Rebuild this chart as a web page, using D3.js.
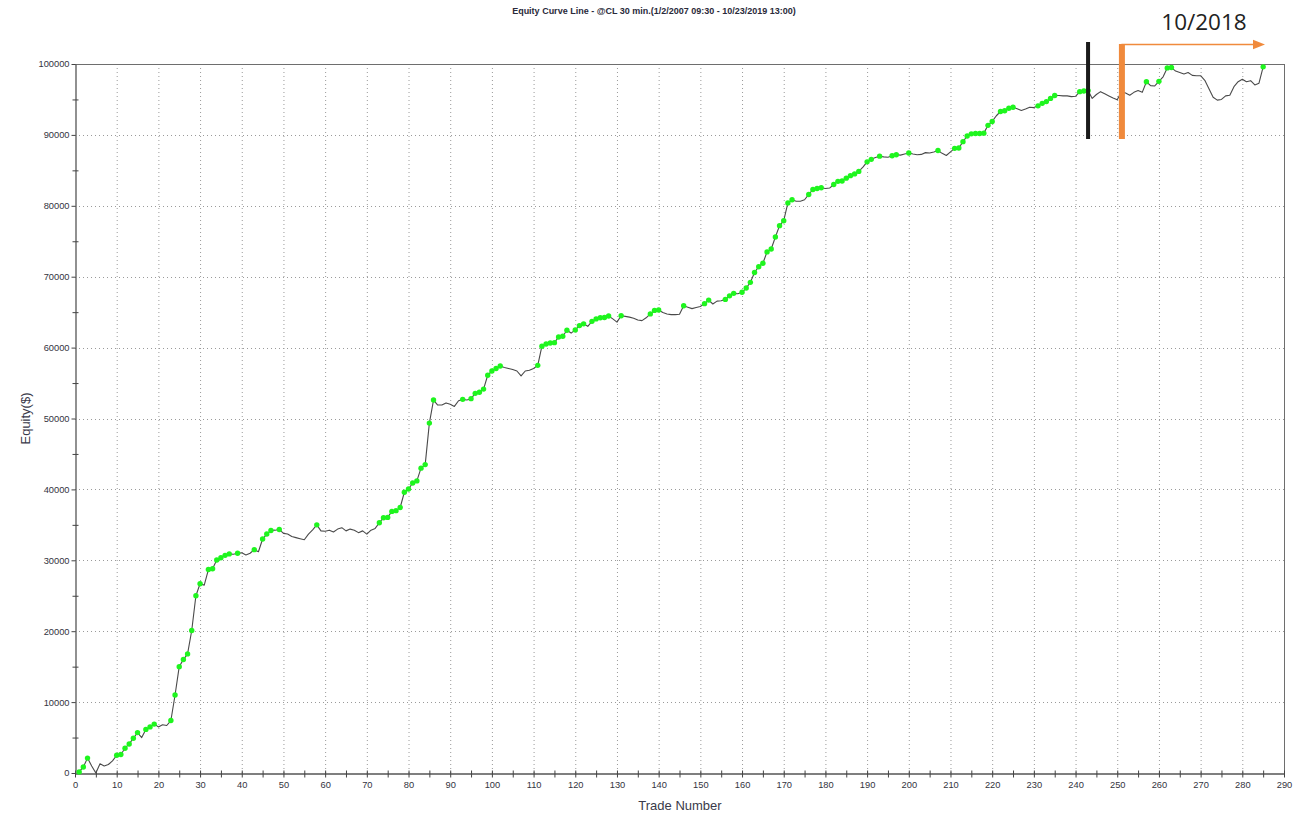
<!DOCTYPE html>
<html>
<head>
<meta charset="utf-8">
<script src="https://cdn.jsdelivr.net/npm/d3@7"></script>
<style>
  html, body { margin: 0; padding: 0; background: #fff; }
  svg { display: block; }
</style>
</head>
<body>
<svg id="chart" width="1308" height="820"></svg>
<script>
// ---------- DATA ----------
const chartTitle = "Equity Curve Line - @CL 30 min.(1/2/2007 09:30 - 10/23/2019 13:00)";
const xAxisLabel = "Trade Number";
const yAxisLabel = "Equity($)";
const xTickValues = d3.range(0, 291, 10);
const yTickValues = d3.range(0, 100001, 10000);

// Equity after each trade, trades 1..285
const equity = [
  150, 850, 2100, 1000, 0, 1300, 1000, 1200, 1700, 2500,
  2600, 3500, 4100, 4900, 5700, 5000, 6150, 6500, 6900, 6500,
  6800, 6700, 7400, 11000, 15000, 16000, 16800, 20100, 25000, 26700,
  26500, 28700, 28800, 30050, 30350, 30700, 30900, 30850, 31000, 31050,
  30750, 31000, 31500, 31200, 33000, 33700, 34200, 34250, 34350, 33800,
  33700, 33350, 33200, 33050, 32900, 33700, 34300, 35000, 34150, 34100,
  34250, 34000, 34400, 34600, 34150, 34400, 34250, 33900, 34150, 33700,
  34250, 34500, 35300, 36000, 36050, 36900, 37000, 37450, 39600, 40050,
  40900, 41200, 43000, 43500, 49350, 52600, 51900, 51900, 52200, 52000,
  51700, 52500, 52700, 52600, 52800, 53550, 53700, 54150, 56100, 56700,
  57050, 57400, 57200, 57050, 56900, 56700, 56000, 56700, 56800, 57050,
  57500, 60200, 60500, 60650, 60700, 61500, 61600, 62450, 62050, 62500,
  63100, 63350, 63000, 63700, 64050, 64200, 64250, 64450, 64050, 63600,
  64500, 64400, 64300, 64150, 63900, 63800, 64200, 64750, 65250, 65300,
  64950, 64750, 64650, 64650, 64700, 65900, 65700, 65500, 65650, 65800,
  66200, 66700, 66150, 66550, 66600, 66800, 67300, 67650, 67600, 67800,
  68400, 69200, 70600, 71400, 71900, 73500, 73900, 75600, 77200, 77900,
  80400, 80850, 80650, 80650, 80850, 81600, 82300, 82450, 82550, 82450,
  82500, 83000, 83450, 83500, 83900, 84250, 84500, 84850, 85450, 86200,
  86550, 86800, 87000, 86900, 86850, 87050, 87200, 87150, 87300, 87450,
  87300, 87200, 87250, 87500, 87450, 87600, 87800, 87400, 87100, 87600,
  88100, 88150, 89050, 89850, 90150, 90200, 90200, 90250, 91350, 91900,
  92700, 93300, 93400, 93750, 93900, 93700, 93450, 93650, 93900, 93850,
  94100, 94450, 94700, 95150, 95550, 95550, 95500, 95500, 95400, 95450,
  96100, 96200, 96250, 95150, 95700, 96100, 95800, 95500, 95200, 94950,
  96100, 95900, 95600, 96000, 96250, 96000, 97500, 96950, 96900, 97550,
  98200, 99450, 99500, 99000, 98800, 98600, 98800, 98400, 98350, 98350,
  97700, 96500, 95300, 94900, 95000, 95500, 95600, 96800, 97500, 97850,
  97500, 97650, 97050, 97300, 99600
];
const firstTrade = 1;

// Trades marked with a green dot (new equity highs)
const highTrades = [
  1, 2, 3, 10, 11, 12, 13, 14, 15, 17, 18, 19, 23, 24, 25, 26, 27, 28, 29, 30,
  32, 33, 34, 35, 36, 37, 39, 43, 45, 46, 47, 49, 58, 73, 74, 75, 76, 77, 78, 79,
  80, 81, 82, 83, 84, 85, 86, 93, 95, 96, 97, 98, 99, 100, 101, 102, 111, 112, 113, 114,
  115, 116, 117, 118, 120, 121, 122, 124, 125, 126, 127, 128, 131, 138, 139, 140, 146, 151, 152, 156,
  157, 158, 160, 161, 162, 163, 164, 165, 166, 167, 168, 169, 170, 171, 172, 176, 177, 178, 179, 182,
  183, 184, 185, 186, 187, 188, 190, 191, 193, 196, 197, 200, 207, 211, 212, 213, 214, 215, 216, 217,
  218, 219, 220, 222, 223, 224, 225, 231, 232, 233, 234, 235, 241, 242, 243, 257, 260, 262, 263, 285
];

// Annotation markers (trade numbers) and label
const blackMarkerTrade = 243;
const orangeMarkerTrade = 251;
const annotationLabel = "10/2018";

// ---------- CHART ----------
const svg = d3.select("#chart");
const X0 = 75, X1 = 1284, Y0 = 773, Y1 = 64;
const x = d3.scaleLinear().domain([0, 290]).range([X0, X1]);
const y = d3.scaleLinear().domain([0, 100000]).range([Y0, Y1]);

const points = equity.map((v, i) => ({ t: i + firstTrade, v }));
const byTrade = new Map(points.map(p => [p.t, p]));

// grid
const grid = svg.append("g");
grid.selectAll("line.vx").data(xTickValues.filter(d => d > 0 && d < 290)).enter()
  .append("line")
  .attr("x1", d => x(d) + 0.5).attr("x2", d => x(d) + 0.5)
  .attr("y1", Y0).attr("y2", Y1)
  .attr("stroke", "#9a9a9a").attr("stroke-width", 1)
  .attr("stroke-dasharray", "1,3");
grid.selectAll("line.hy").data(yTickValues.filter(d => d > 0 && d < 100000)).enter()
  .append("line")
  .attr("y1", d => Math.round(y(d)) + 0.5).attr("y2", d => Math.round(y(d)) + 0.5)
  .attr("x1", X0).attr("x2", X1)
  .attr("stroke", "#9a9a9a").attr("stroke-width", 1)
  .attr("stroke-dasharray", "1,3");

// frame (top and right)
svg.append("line").attr("x1", X0).attr("x2", X1).attr("y1", Y1 + 0.5).attr("y2", Y1 + 0.5)
  .attr("stroke", "#6e6e6e").attr("stroke-width", 1);
svg.append("line").attr("x1", X1 + 0.5).attr("x2", X1 + 0.5).attr("y1", Y1).attr("y2", Y0)
  .attr("stroke", "#6e6e6e").attr("stroke-width", 1);

// axes
const tickColor = "#333340";
const xAxis = d3.axisBottom(x).tickValues(xTickValues).tickSize(4).tickSizeOuter(0).tickPadding(4);
const gx = svg.append("g").attr("transform", `translate(0,${Y0 + 0.5})`).call(xAxis);
const xMinor = d3.axisBottom(x).tickValues(d3.range(5, 290, 10)).tickSize(4).tickSizeOuter(0).tickFormat("");
const gxm = svg.append("g").attr("transform", `translate(0,${Y0 + 0.5})`).call(xMinor);
gxm.select(".domain").remove();

const yAxis = d3.axisLeft(y).tickValues(yTickValues).tickSize(4).tickSizeOuter(0).tickPadding(2).tickFormat(d3.format("d"));
const gy = svg.append("g").attr("transform", `translate(${X0 + 0.5},0)`).call(yAxis);
const yMinor = d3.axisLeft(y).tickValues(d3.range(5000, 100000, 10000)).tickSize(4).tickSizeOuter(0).tickFormat("");
const gym = svg.append("g").attr("transform", `translate(${X0 + 0.5},0)`).call(yMinor);
gym.select(".domain").remove();

[gx, gxm, gy, gym].forEach(g => {
  g.selectAll(".domain").attr("stroke", "#555").attr("stroke-width", 1.3);
  g.selectAll(".tick line").attr("stroke", "#444");
  g.selectAll("text").attr("fill", tickColor).style("font-family", "Liberation Sans, Arial, sans-serif").style("font-size", "9.3px");
});
// ticks crossing axis
gx.selectAll(".tick line").attr("y1", -3);
gxm.selectAll(".tick line").attr("y1", -3);
gym.selectAll(".tick line").attr("x1", 3).attr("x2", -3);

// line
const line = d3.line().x(d => x(d.t)).y(d => y(d.v));
svg.append("path").datum(points)
  .attr("d", line)
  .attr("fill", "none")
  .attr("stroke", "#4a4a4a")
  .attr("stroke-width", 1.1)
  .attr("stroke-linejoin", "round");

// green dots
svg.append("g").selectAll("circle").data(highTrades.map(t => byTrade.get(t)).filter(Boolean))
  .enter().append("circle")
  .attr("cx", d => x(d.t)).attr("cy", d => y(d.v))
  .attr("r", 2.7)
  .attr("fill", "#1ef51e");

// title
svg.append("text")
  .attr("x", 654).attr("y", 14)
  .attr("text-anchor", "middle")
  .style("font-family", "Liberation Sans, Arial, sans-serif")
  .style("font-size", "9px").style("font-weight", "bold")
  .attr("fill", "#2a2a3a")
  .text(chartTitle);

// axis labels
svg.append("text")
  .attr("x", 680).attr("y", 810)
  .attr("text-anchor", "middle")
  .style("font-family", "Liberation Sans, Arial, sans-serif")
  .style("font-size", "13px")
  .attr("fill", "#3a3a4a")
  .text(xAxisLabel);
svg.append("text")
  .attr("transform", `translate(30,${(Y0 + Y1) / 2}) rotate(-90)`)
  .attr("text-anchor", "middle")
  .style("font-family", "Liberation Sans, Arial, sans-serif")
  .style("font-size", "13px")
  .attr("fill", "#3a3a4a")
  .text(yAxisLabel);

// annotations
const ann = svg.append("g");
ann.append("rect")
  .attr("x", x(blackMarkerTrade) - 2).attr("y", 42)
  .attr("width", 4).attr("height", 97)
  .attr("fill", "#1a1a1a");
ann.append("rect")
  .attr("x", x(orangeMarkerTrade) - 2.5).attr("y", 44)
  .attr("width", 6).attr("height", 95)
  .attr("fill", "#f08a3c");
ann.append("line")
  .attr("x1", x(orangeMarkerTrade)).attr("x2", 1254)
  .attr("y1", 44.5).attr("y2", 44.5)
  .attr("stroke", "#f08a3c").attr("stroke-width", 1.5);
ann.append("path")
  .attr("d", "M1253,39.7 L1265,44.5 L1253,49.3 Z")
  .attr("fill", "#f08a3c");
ann.append("text")
  .attr("x", 1204).attr("y", 30)
  .attr("text-anchor", "middle")
  .style("font-family", "Open Sans, DejaVu Sans, sans-serif")
  .style("font-size", "22.5px")
  .attr("fill", "#222")
  .text(annotationLabel);
</script>
</body>
</html>
